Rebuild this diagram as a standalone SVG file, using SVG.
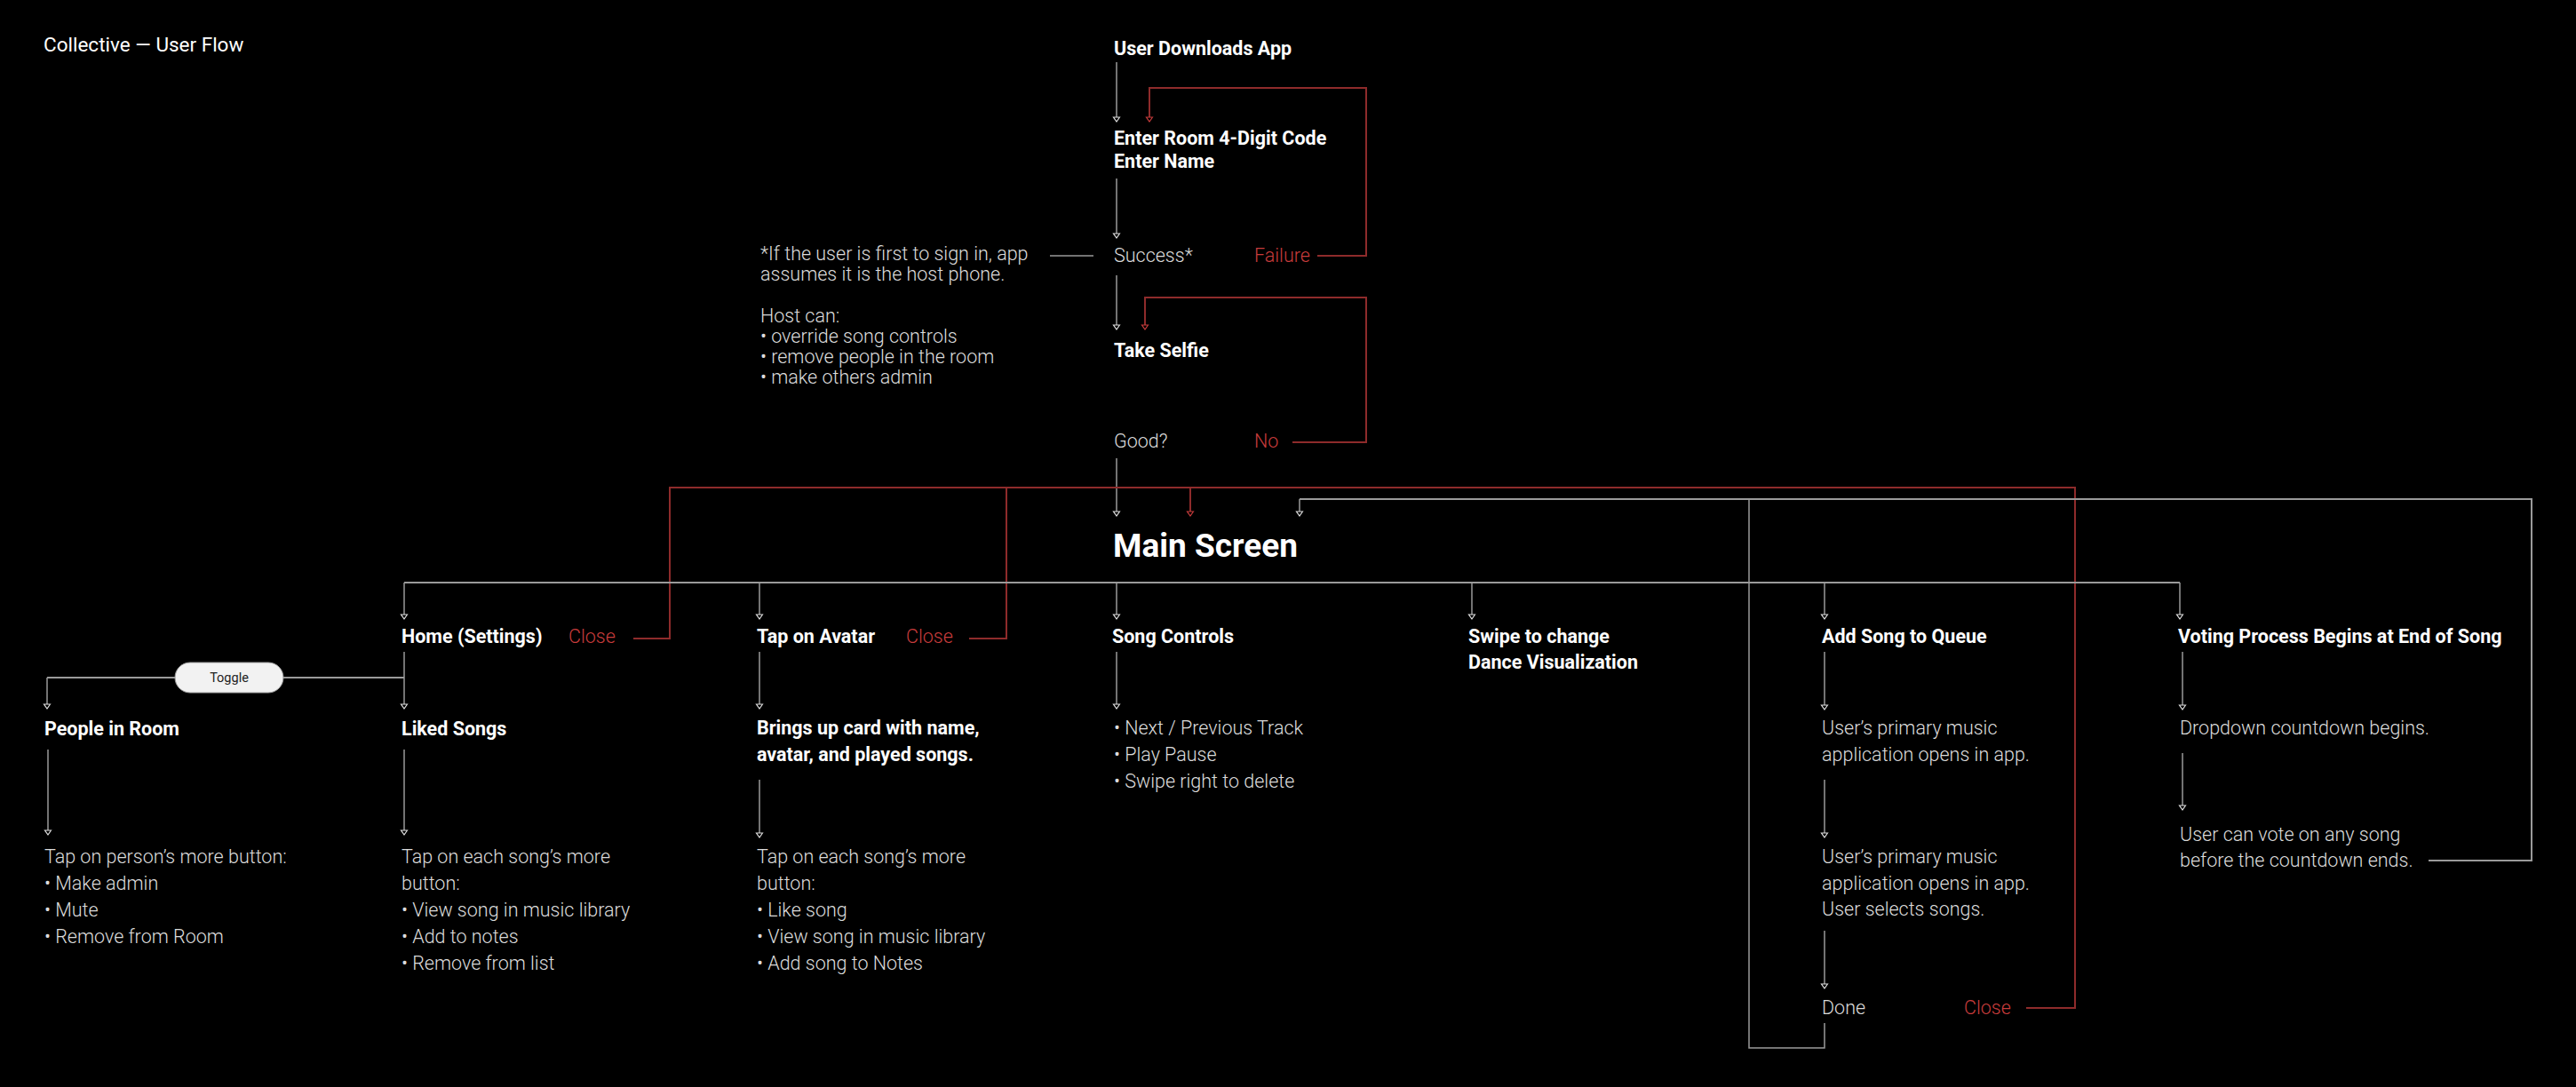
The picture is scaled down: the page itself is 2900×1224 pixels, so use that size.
<svg xmlns="http://www.w3.org/2000/svg" width="2900" height="1224" viewBox="0 0 2900 1224">
<style>
text{font-family:Roboto,"Liberation Sans",sans-serif}
.ttl{font-size:22.5px;fill:#fff}
.h{font-size:21.5px;font-weight:700;fill:#fff}
.hm{font-size:37px;font-weight:700;fill:#fff}
.t{font-size:21.5px;font-weight:300;fill:#dcdcdc}
.r{font-size:21.5px;font-weight:300;fill:#c83c3c}
.c{fill:none;stroke:#9a9a9a;stroke-width:1.5}
.cb{fill:none;stroke:#9a9a9a;stroke-width:2}
.cr{fill:none;stroke:#8e2b2b;stroke-width:2}
.a{marker-end:url(#ag)}
.ar{marker-end:url(#ar)}
.pill{fill:#f2f2f2;stroke:#9a9a9a;stroke-width:1}
.pt{font-size:14.5px;fill:#222;text-anchor:middle}
</style>
<defs>
<marker id="ag" markerUnits="userSpaceOnUse" viewBox="-6 -5 8 10" refX="0" refY="0" markerWidth="8" markerHeight="10" orient="auto">
<path d="M-5,-3.5 L0,0 L-5,3.5 Z" fill="#000" stroke="#e0e0e0" stroke-width="1.2"/>
</marker>
<marker id="ar" markerUnits="userSpaceOnUse" viewBox="-6 -5 8 10" refX="0" refY="0" markerWidth="8" markerHeight="10" orient="auto">
<path d="M-5,-3.5 L0,0 L-5,3.5 Z" fill="#000" stroke="#c83c3c" stroke-width="1.2"/>
</marker>
</defs>
<rect width="2900" height="1224" fill="#000"/>
<text class="ttl" x="49" y="58">Collective — User Flow</text>

<g id="connectors">
<path class="c a" d="M1257,70 V137"/>
<path class="cr ar" d="M1483,288 H1538 V99 H1294 V137"/>
<path class="c a" d="M1257,201 V268"/>
<path class="c" d="M1182,288 H1231"/>
<path class="c a" d="M1257,310 V371"/>
<path class="cr ar" d="M1455,498 H1538 V335 H1289 V371"/>
<path class="c a" d="M1257,516 V581"/>
<path class="cr" d="M713,719 H754 V549 H2336 V1135 H2281"/>
<path class="cr" d="M1091,719 H1133 V549"/>
<path class="cr ar" d="M1340,549 V581"/>
<path class="cb" d="M2734,969 H2850 V562 H1463"/>
<path class="c a" d="M1463,562 V581"/>
<path class="c" d="M2054,1152 V1180 H1969 V562"/>
<path class="cb" d="M455,656 H2454"/>
<path class="c a" d="M455,656 V697"/>
<path class="c a" d="M855,656 V697"/>
<path class="c a" d="M1257,656 V697"/>
<path class="c a" d="M1657,656 V697"/>
<path class="c a" d="M2054,656 V697"/>
<path class="c a" d="M2454,656 V697"/>
<path class="c a" d="M455,734 V798"/>
<path class="cb" d="M455,763 H53"/>
<path class="c a" d="M53,763 V798"/>
<path class="c a" d="M54,844 V940"/>
<path class="c a" d="M455,844 V940"/>
<path class="c a" d="M855,734 V798"/>
<path class="c a" d="M855,878 V943"/>
<path class="c a" d="M1257,734 V798"/>
<path class="c a" d="M2054,734 V799"/>
<path class="c a" d="M2054,878 V943"/>
<path class="c a" d="M2054,1048 V1113"/>
<path class="c a" d="M2457,734 V799"/>
<path class="c a" d="M2457,848 V912"/>
</g>

<g id="toggle">
<rect class="pill" x="197" y="746" width="122" height="34" rx="17"/>
<text class="pt" x="258" y="768">Toggle</text>
</g>

<g id="n-download"><text class="h" x="1254" y="62">User Downloads App</text></g>
<g id="n-enter">
<text class="h" x="1254" y="163">Enter Room 4-Digit Code</text>
<text class="h" x="1254" y="189">Enter Name</text>
</g>
<g id="n-success"><text class="t" x="1254" y="295">Success*</text></g>
<g id="n-failure"><text class="r" x="1412" y="295">Failure</text></g>
<g id="n-note">
<text class="t" x="856" y="293">*If the user is first to sign in, app</text>
<text class="t" x="856" y="316">assumes it is the host phone.</text>
<text class="t" x="856" y="363">Host can:</text>
<text class="t" x="856" y="386">• override song controls</text>
<text class="t" x="856" y="409">• remove people in the room</text>
<text class="t" x="856" y="432">• make others admin</text>
</g>
<g id="n-selfie"><text class="h" x="1254" y="402">Take Selfie</text></g>
<g id="n-good"><text class="t" x="1254" y="504">Good?</text></g>
<g id="n-no"><text class="r" x="1412" y="504">No</text></g>
<g id="n-main"><text class="hm" x="1253" y="627">Main Screen</text></g>

<g id="n-home">
<text class="h" x="452" y="724">Home (Settings)</text>
<text class="r" x="640" y="724">Close</text>
</g>
<g id="n-people"><text class="h" x="50" y="828">People in Room</text></g>
<g id="n-people-more">
<text class="t" x="50" y="972">Tap on person’s more button:</text>
<text class="t" x="50" y="1002">• Make admin</text>
<text class="t" x="50" y="1032">• Mute</text>
<text class="t" x="50" y="1062">• Remove from Room</text>
</g>
<g id="n-liked"><text class="h" x="452" y="828">Liked Songs</text></g>
<g id="n-liked-more">
<text class="t" x="452" y="972">Tap on each song’s more</text>
<text class="t" x="452" y="1002">button:</text>
<text class="t" x="452" y="1032">• View song in music library</text>
<text class="t" x="452" y="1062">• Add to notes</text>
<text class="t" x="452" y="1092">• Remove from list</text>
</g>

<g id="n-avatar">
<text class="h" x="852" y="724">Tap on Avatar</text>
<text class="r" x="1020" y="724">Close</text>
</g>
<g id="n-card">
<text class="h" x="852" y="827">Brings up card with name,</text>
<text class="h" x="852" y="857">avatar, and played songs.</text>
</g>
<g id="n-card-more">
<text class="t" x="852" y="972">Tap on each song’s more</text>
<text class="t" x="852" y="1002">button:</text>
<text class="t" x="852" y="1032">• Like song</text>
<text class="t" x="852" y="1062">• View song in music library</text>
<text class="t" x="852" y="1092">• Add song to Notes</text>
</g>

<g id="n-controls"><text class="h" x="1252" y="724">Song Controls</text></g>
<g id="n-controls-list">
<text class="t" x="1254" y="827">• Next / Previous Track</text>
<text class="t" x="1254" y="857">• Play Pause</text>
<text class="t" x="1254" y="887">• Swipe right to delete</text>
</g>

<g id="n-swipe">
<text class="h" x="1653" y="724">Swipe to change</text>
<text class="h" x="1653" y="753">Dance Visualization</text>
</g>

<g id="n-add"><text class="h" x="2051" y="724">Add Song to Queue</text></g>
<g id="n-add-1">
<text class="t" x="2051" y="827">User’s primary music</text>
<text class="t" x="2051" y="857">application opens in app.</text>
</g>
<g id="n-add-2">
<text class="t" x="2051" y="972">User’s primary music</text>
<text class="t" x="2051" y="1002">application opens in app.</text>
<text class="t" x="2051" y="1031">User selects songs.</text>
</g>
<g id="n-done"><text class="t" x="2051" y="1142">Done</text></g>
<g id="n-add-close"><text class="r" x="2211" y="1142">Close</text></g>

<g id="n-voting"><text class="h" x="2452" y="724">Voting Process Begins at End of Song</text></g>
<g id="n-dropdown"><text class="t" x="2454" y="827">Dropdown countdown begins.</text></g>
<g id="n-vote">
<text class="t" x="2454" y="947">User can vote on any song</text>
<text class="t" x="2454" y="976">before the countdown ends.</text>
</g>
</svg>
